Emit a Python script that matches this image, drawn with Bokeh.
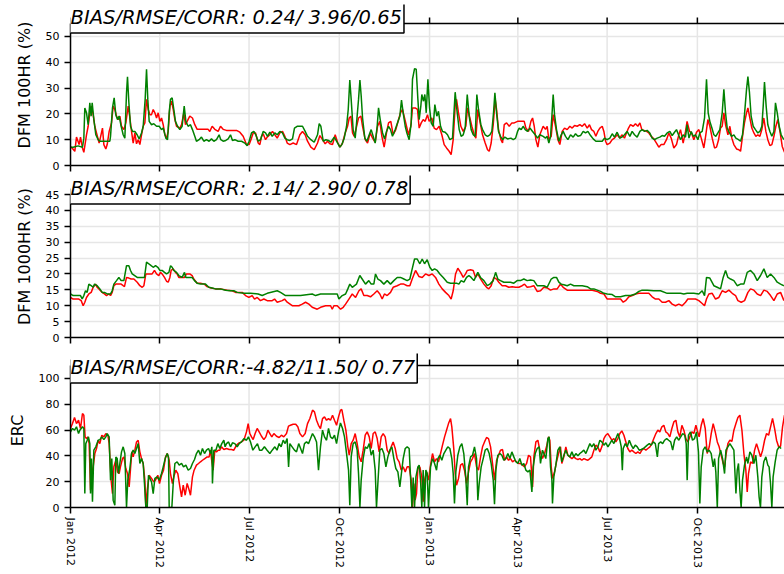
import numpy as np
from bokeh.plotting import figure
from bokeh.layouts import column
from bokeh.models import (Range1d, FixedTicker, Label, DatetimeTickFormatter,
                          ColumnDataSource, CustomLabelingPolicy, Span)
from bokeh.embed import file_html
from bokeh.resources import INLINE

# ---------------- data (day offset from 2012-01-01, value) ----------------
start_date = "2012-01-01"
end_day = 727.8
quarter_ticks = ["2012-01-01", "2012-04-01", "2012-07-01", "2012-10-01",
                 "2013-01-01", "2013-04-01", "2013-07-01", "2013-10-01"]
panel_titles = ["BIAS/RMSE/CORR: 0.24/ 3.96/0.65",
                "BIAS/RMSE/CORR: 2.14/ 2.90/ 0.78",
                "BIAS/RMSE/CORR:-4.82/11.50/ 0.77"]
y_labels = ["DFM 100HR (%)", "DFM 1000HR (%)", "ERC"]
y_ticks_100 = [0, 10, 20, 30, 40, 50]
y_ticks_1000 = [0, 5, 10, 15, 20, 25, 30, 35, 40, 45]
y_ticks_erc = [0, 20, 40, 60, 80, 100]
y_max = [55, 45, 110]

dfm100_red = [
(0,6.8),(1,7.1),(4.4,5.5),(6.1,11.0),(8.8,8.1),(10.2,11.0),(12.2,6.8),(13.6,5.1),(16.3,11.9),(18,15.2),(19.7,20.4),(21.4,23.0),(23.1,19.7),(24.8,15.2),(26.5,12.6),(29.2,8.7),(30.6,11.0),(32.6,14.5),(34,8.1),(36,6.4),(37.4,8.1),(39.4,13.2),(41.8,16.5),(43.5,23.0),(45.2,21.7),(46.9,19.1),(48.6,17.8),(50.3,19.1),(52,15.2),(54.4,13.9),(56.4,16.5),(58.8,23.0),(60.5,18.6),(62.2,13.2),(63.9,8.7),(65.6,12.6),(67.3,8.4),(69,10.0),(70.7,8.1),(72.4,11.9),(74.1,15.2),(75.8,16.5),(77.5,25.6),(79.2,21.7),(80.9,19.7),(82.6,19.7),(84.3,21.7),(86,20.4),(87.7,18.4),(89.4,20.4),(91.1,17.1),(92.8,18.4),(94.5,15.8),(96.2,11.9),(97.9,10.6),(99.6,13.2),(101.3,23.0),(103,24.9),(104.7,21.7),(106.4,17.8),(108.1,15.2),(111.5,14.5),(113.2,15.8),(115.5,20.4),(117.2,15.8),(118.9,17.1),(121.6,19.1),(124.3,18.4),(126.7,15.8),(129.1,14.0),(131.8,14.0),(140.3,14.0),(142,13.2),(144.4,15.2),(147.1,14.0),(150.5,13.2),(152.9,15.2),(155.6,14.0),(159,13.6),(169.2,13.6),(172.6,12.9),(176,11.3),(179.4,8.1),(182.1,8.1),(184.5,10.6),(186.2,12.6),(188.6,12.6),(191.3,8.7),(193,8.1),(194.7,11.3),(196.4,12.3),(198.8,10.0),(200.5,11.0),(203.2,11.9),(205.9,13.2),(208.3,11.9),(210.7,10.6),(213.4,12.6),(216.1,13.2),(218.5,11.3),(220.9,8.7),(223.6,8.1),(227,8.7),(230.4,8.1),(233.8,11.9),(236.5,13.2),(239.2,11.9),
(241.6,9.4),(245,7.1),(248.4,6.1),(251.8,8.7),(254.2,11.6),(256.9,10.0),(259.6,8.4),(262,9.4),(264.4,8.4),(267.1,8.1),(269.8,11.9),(272.2,9.0),(274.6,7.1),(277.3,8.7),(280,12.6),(282.4,15.2),(284.1,18.4),(285.8,19.1),(287.5,12.6),(289.2,11.3),(290.9,13.9),(293.6,18.4),(296,19.1),(297.7,15.2),(300.4,10.0),(302.8,8.7),(305.5,12.6),(307.9,10.6),(310.6,9.0),(313,15.2),(315.3,17.1),(317.4,11.3),(319.7,7.1),(322.1,12.6),(324.2,16.5),(326.5,17.1),(328.9,11.9),(331.6,13.9),(334.4,17.8),(336.4,20.4),(338.4,21.7),(340.5,18.4),(342.5,15.2),(344.5,11.9),(346.9,15.2),(348.6,22.3),(351.3,22.3),(353.7,21.7),(355.4,14.5),(357.5,16.5),(359.5,17.8),(361.5,17.1),(363.9,19.7),(365.6,17.1),(368.3,18.4),(370.7,14.5),(373.1,13.9),(375.8,15.2),(378.5,11.9),(380.9,8.1),(383.3,6.8),(386,5.5),(388,4.2),(390.1,10.0),(392.1,23.0),(393.5,25.6),(395.5,20.4),(397.9,15.2),(400.3,13.2),(403,15.2),(404.7,22.3),(407.1,18.4),(409.1,15.2),(411.5,11.9),(413.2,10.6),(415.2,21.7),(417.3,17.1),(420,11.9),(422.7,8.7),(425.1,6.1),(426.8,5.5),(428.8,8.7),(430.9,15.8),(432.9,25.6),(434.3,21.7),(436.3,13.9),(438.7,10.0),(440.4,8.7),(442.1,15.8),(444.5,16.5),(447.2,15.2),(449.9,16.5),(452.3,16.5),(455.7,17.1),(459.1,17.1),(462.5,17.1),(464.2,14.5),(466.9,13.2),(469.3,17.1),(471,18.4),(472.7,15.2),(474.4,10.0),(476.4,7.1),(478.4,11.9),
(481.8,15.2),(484.2,14.0),(485.9,15.2),(487.6,10.0),(490,11.3),(492,19.7),(494.4,15.2),(496.8,10.0),(498.8,8.1),(501.2,13.2),(503.6,14.5),(506.3,13.9),(509,15.2),(511.4,14.5),(513.8,15.5),(516.5,15.2),(519.2,15.8),(521.6,15.2),(524,16.2),(526.7,14.5),(529,15.8),(531.1,13.9),(533.5,13.2),(535.5,11.3),(537.5,13.2),(539.6,14.5),(542,15.2),(543.7,13.2),(545.4,9.4),(547,8.1),(549.8,8.7),(552.2,10.0),(554.5,10.6),(557.2,11.9),(559.9,10.6),(562,11.9),(564.7,10.6),(566.7,12.6),(568.8,14.5),(570.8,15.8),(573.6,15.2),(575.9,16.2),(578.3,15.2),(580.4,16.5),(582.4,13.9),(584.5,13.6),(587.2,13.2),(589.5,12.6),(591.9,11.3),(594.6,10.3),(597.3,8.7),(599.7,7.1),(602.1,8.1),(604.8,8.1),(607.5,10.0),(609.9,12.6),(612.3,10.6),(615,6.8),(617.7,8.1),(620.1,11.9),(621.8,13.9),(624.5,8.7),(626.9,13.2),(628.5,17.1),(631,13.2),(633,12.6),(635.4,10.0),(638.1,12.9),(640.5,13.9),(642.9,10.6),(645.6,6.8),(647.6,11.9),(649.7,17.8),(651.7,15.2),(654.1,10.6),(656.5,6.8),(658.5,7.1),(660.6,10.0),(662.6,14.5),(664.3,15.2),(666,20.4),(667.7,15.8),(670.1,11.9),(672.1,15.2),(674.1,10.6),(676.2,8.1),(678.9,6.4),(681.3,6.1),(683,5.5),(685,11.3),(687,16.5),(689.1,20.4),(690.5,22.3),(692.5,18.4),(694.5,14.5),(696.6,12.6),(698.6,11.3),(700.6,11.9),(702.7,11.3),(704.7,13.9),(706.7,18.4),(708.8,13.2),(710.8,10.0),(712.9,7.7),(714.9,8.1),(717,11.3),(719,15.2),(721,17.8),(723.4,12.6),(725.5,7.4),(727.8,5.1)]

dfm100_green = [
(0,7.1),(2.7,7.1),(7.8,7.6),(12.2,7.1),(13.6,10.6),(14.6,22.3),(16.3,20.4),(18,15.8),(19.7,24.3),(21,19.1),(22.1,24.3),(23.8,17.8),(25.8,11.9),(28.2,10.0),(29.9,9.4),(40.1,9.4),(40.8,11.3),(42.8,22.3),(44.5,26.2),(46.2,19.7),(47.9,17.8),(49.6,19.1),(51.3,15.8),(53.7,11.9),(55.4,10.6),(57.1,28.2),(58.1,34.4),(59.5,24.3),(61.2,15.2),(63.2,13.2),(65.6,13.2),(67.9,11.9),(70,10.3),(72.4,12.6),(74.1,15.2),(76.1,25.6),(77.5,37.3),(78.8,25.6),(80.2,17.1),(82.6,15.8),(84.9,16.2),(87.7,15.2),(90.4,15.2),(92.8,13.9),(94.5,14.5),(97.2,10.6),(98.9,10.0),(100.6,20.4),(101.9,25.6),(103.6,26.2),(105.3,21.7),(107,17.1),(109.1,15.2),(111.5,13.9),(113.8,15.2),(115.9,23.0),(117.6,17.1),(119.9,15.2),(122.3,15.8),(124.3,13.9),(126.7,11.3),(128.4,9.4),(131.1,10.0),(133.5,11.0),(135.9,9.4),(138.6,10.0),(141.3,9.4),(143.7,10.3),(146.1,9.4),(148.8,10.0),(151.5,11.9),(153.2,10.0),(155.6,9.4),(158.3,9.7),(160.7,10.3),(163.1,11.9),(165.1,9.7),(167.5,10.0),(170.9,9.4),(174.3,9.4),(177.7,8.7),(180.1,7.7),(182.1,9.4),(184.5,12.6),(186.9,13.2),(188.9,11.9),(191.3,9.4),(193.7,10.0),(196.4,13.2),(198.8,12.6),(200.8,11.3),(203.2,12.9),(205.6,11.3),(208.3,12.6),(210.7,11.9),(213.4,13.2),(216.1,12.6),(218.5,10.6),(220.9,10.0),(223.6,9.7),(226.3,10.3),(228.3,14.5),(231,15.2),(233.8,15.2),(236.5,15.2),
(239.2,13.2),(241.6,11.3),(245,10.0),(248.4,9.0),(251.8,11.9),(253.5,16.2),(255.2,15.2),(257.6,9.4),(260.3,10.0),(263,9.7),(265.4,9.0),(268.8,11.0),(271.2,9.4),(274.6,7.1),(276.6,8.1),(279,10.6),(281.4,15.2),(283.1,21.7),(284.7,33.1),(286.1,25.6),(288.1,13.9),(290.2,10.6),(291.9,17.8),(293.6,25.6),(295,33.1),(296.3,27.0),(297.7,18.4),(300,10.6),(302.1,9.4),(304.5,11.9),(306.5,13.9),(308.5,11.3),(310.6,8.7),(312.6,15.2),(314,22.3),(315.7,17.8),(318.1,12.6),(320.1,10.3),(322.1,13.2),(324.2,15.2),(326.2,13.9),(328.2,11.3),(331,13.9),(333.3,16.5),(335.7,19.1),(337.4,25.3),(339.1,20.4),(341.2,15.2),(342.9,12.6),(345.2,10.0),(347.3,16.5),(348.6,33.4),(350.7,37.5),(352.4,37.3),(354.1,25.6),(355.4,17.8),(357.1,23.0),(358.1,27.5),(359.8,24.9),(361.2,27.5),(362.6,20.4),(364.3,33.4),(366,22.3),(367.7,16.5),(369.7,15.2),(371.4,23.6),(373.4,19.1),(375.1,21.0),(377.2,15.2),(379.2,13.2),(381.9,12.9),(384.3,11.9),(386.7,10.0),(389.4,10.6),(392.1,28.4),(394.2,20.4),(396.2,13.9),(398.2,11.3),(400.3,11.9),(402.3,14.5),(404.4,27.5),(406.4,19.1),(408.4,13.9),(410.5,11.9),(412.5,11.3),(414.2,27.5),(415.9,21.7),(418.3,15.8),(420,13.9),(422.7,11.9),(425.1,11.3),(427.5,11.9),(429.5,13.2),(431.2,20.4),(432.6,28.2),(434.3,20.4),(436.3,13.2),(438.3,11.3),(440.4,10.0),(442.7,11.0),(445.5,10.3),(448.9,10.6),(451.3,10.0),(453.7,10.6),(455.7,13.2),(457.4,14.5),(459.4,13.9),(461.4,15.2),(463.5,13.9),(465.9,13.2),(468.3,14.5),(471,13.2),(473.7,11.9),(476.1,10.6),(478.4,11.9),
(481.8,11.3),(484.2,10.6),(485.9,11.3),(487.6,8.7),(489.3,11.3),(490.7,19.1),(492,27.5),(493.4,19.7),(495.4,13.9),(497.8,9.4),(500.2,11.9),(502.2,13.2),(504.6,11.3),(507,10.0),(509.7,11.9),(512.4,11.0),(514.8,12.3),(517.2,11.3),(519.9,11.6),(522.6,13.2),(525,12.6),(527.4,13.2),(530.1,11.6),(532.8,10.3),(535.5,9.4),(538.5,9.4),(542,9.4),(544.3,10.6),(547,10.0),(549.8,10.6),(552.2,12.3),(554.5,11.0),(557.2,12.9),(559.9,10.6),(562,11.0),(564.7,11.9),(567.4,13.2),(570.2,11.3),(572.5,13.2),(574.9,11.9),(577.6,11.0),(580.4,13.2),(582.7,13.9),(585.1,13.2),(587.8,13.6),(590.5,12.6),(592.9,10.6),(595.3,10.0),(598,10.6),(600.7,11.0),(603.1,11.6),(605.5,11.3),(608.2,12.6),(610.9,13.2),(613.3,11.6),(615.7,12.9),(617.7,13.9),(620.1,11.6),(621.8,10.0),(624.5,11.9),(626.9,11.0),(628.5,15.8),(630.4,10.6),(632.7,13.2),(634.8,11.3),(637.1,11.9),(639.5,10.0),(641.5,12.6),(643.9,13.2),(646.3,18.4),(648.3,33.4),(650,20.4),(651.7,17.1),(653.8,14.5),(655.8,11.9),(657.8,11.3),(659.9,12.6),(661.9,13.9),(664.3,20.4),(666,29.5),(667.7,20.4),(669.4,14.5),(671.8,12.6),(673.8,11.3),(676.2,11.9),(678.2,10.6),(680.9,10.0),(683,9.4),(685,11.9),(687,19.7),(689.1,29.5),(690.5,34.4),(692.1,28.2),(693.8,19.1),(695.9,15.2),(698.2,13.9),(700.6,12.6),(702.7,13.2),(704.7,15.2),(706.1,23.0),(707.4,32.3),(709.1,23.0),(710.8,15.8),(712.9,13.2),(714.9,11.3),(717,13.2),(718.6,24.3),(720.4,20.4),(722.4,15.2),(724.4,11.9),(727.1,10.0)]

dfm1000_red = [
(0,12.6),(2.7,12.1),(8.5,12.1),(10.9,11.6),(12.9,10.0),(14.6,11.1),(16.3,12.6),(18.7,13.7),(21.1,14.2),(23.1,15.8),(25.5,16.8),(27.2,15.8),(28.9,15.3),(30.6,14.7),(32.3,14.2),(34.6,13.7),(36.7,13.2),(39.1,13.7),(40.8,13.2),(42.5,14.2),(44.2,16.3),(46.2,16.8),(49.3,16.8),(51.6,16.8),(53.7,16.3),(55,16.0),(57.1,18.9),(59.5,18.7),(61.8,18.4),(64.6,18.4),(68,17.4),(70.7,16.3),(73.1,15.8),(74.8,16.3),(76.8,20.0),(79.8,20.0),(83.2,20.0),(85.6,21.1),(87.7,20.0),(90,19.5),(91.7,20.5),(93.4,20.0),(95.8,18.9),(97.9,17.7),(99.6,17.4),(101.3,18.9),(102.6,21.1),(104.7,21.6),(107,20.5),(108.7,20.0),(110.4,18.9),(113.8,18.9),(116.2,18.9),(118.2,20.0),(121.6,20.0),(124,19.5),(125.7,18.4),(129.1,17.1),(132.5,17.1),(136.5,16.8),(139.2,16.0),(143.3,15.6),(147.8,15.3),(152.9,15.3),(159.7,14.9),(164.8,14.7),(168.2,14.2),(175,14.2),(178.4,13.2),(181.8,12.6),(185.2,13.2),(187.6,12.1),(190.3,12.6),(193.7,11.6),(197.1,12.1),(200.5,11.6),(205.6,11.6),(208,12.1),(210.7,11.1),(215.8,11.6),(218.2,12.1),(220.9,11.1),(226,10.0),(232.8,10.0),(236.2,10.5),(239.6,11.1),(243,10.5),(246.4,9.5),(251.5,8.9),(254.9,9.5),(260,10.0),(265.1,10.0),(266.8,8.9),(268.5,10.0),(271.9,10.0),(275.3,8.9),(278,9.5),(280.4,10.5),(283.8,12.1),(287.2,13.7),(290.6,12.6),(294,14.7),(296.3,15.3),(299,13.2),(302.4,13.2),(305.8,12.8),(309.2,13.7),(312.6,14.7),(315.3,13.7),(317.7,12.1),(320,13.7),(322.8,13.2),(326.2,14.2),(328.9,15.8),(333,16.3),
(336.4,16.8),(339.8,16.8),(343.2,16.3),(345.9,16.3),(348.3,18.4),(351.7,21.1),(355.1,19.2),(358.5,18.9),(361.9,20.0),(365.3,19.5),(368.7,20.0),(372.1,18.9),(375.5,16.8),(378.9,15.3),(382.3,14.2),(385.7,13.2),(388,12.1),(390.1,14.7),(392.5,20.0),(394.8,21.8),(397.6,20.5),(400.3,18.9),(402.7,20.0),(404.4,21.1),(407.8,21.3),(410.5,21.1),(412.9,18.9),(415.2,20.0),(418.1,18.4),(421.4,16.8),(424.1,15.8),(426.4,15.3),(428.8,16.3),(431.5,18.9),(434.3,18.4),(436.6,17.4),(440,16.3),(443.4,16.3),(446.8,15.8),(450.2,16.0),(453.6,15.8),(457,15.8),(460.4,16.3),(462.8,16.8),(465.5,15.8),(468.9,16.0),(472.3,16.3),(475.7,14.5),(479.1,14.7),(482.5,15.8),(485.9,15.6),(489.3,14.9),(492.8,15.3),(496.1,15.3),(499.4,16.8),(502.2,15.8),(506.3,14.9),(511.3,14.9),(516.5,14.9),(521.5,14.9),(526.7,14.9),(531.8,14.9),(536.9,14.5),(540.3,13.9),(543.7,13.7),(547.1,12.1),(553.9,12.1),(560.7,12.1),(563.4,11.1),(565.8,11.6),(569.2,12.8),(572.6,13.2),(576,13.7),(579.4,13.9),(584.5,13.9),(589.5,13.9),(592.9,12.8),(596.3,12.1),(599.7,12.1),(603.1,11.1),(606.5,11.1),(609.9,11.6),(613.3,10.5),(616.7,10.0),(620.1,10.5),(623.5,10.0),(626.9,11.1),(629.3,12.1),(632,12.1),(637.1,12.1),(640.5,11.6),(643.9,10.7),(646.3,10.0),(648.3,12.1),(650.7,13.7),(654.1,13.9),(657.5,12.1),(660.9,12.6),(664.3,14.7),(667.7,14.2),(671.1,14.9),(674.5,13.9),(677.9,13.2),(680.3,11.6),(683.7,11.1),(687.1,11.6),(690.5,14.2),(693.2,15.3),(696.6,14.9),(700,13.7),(703.4,13.2),(706.8,14.9),(710.2,14.5),(713.6,13.2),(717,11.6),(720.4,13.7),(723.8,14.2),(727.2,11.6)]

dfm1000_green = [
(0,13.7),(2.7,13.2),(6.8,13.2),(10.2,13.2),(11.9,12.1),(13.6,13.2),(15.3,14.7),(17,14.2),(18.7,16.8),(21.1,16.3),(23.1,15.8),(24.5,16.8),(27.2,16.3),(29.9,15.3),(32.3,14.2),(34.6,14.2),(37.4,13.7),(40.8,13.7),(42.5,14.7),(44.2,16.8),(46.9,17.9),(49.3,18.9),(51.6,17.9),(54.4,17.9),(57.1,22.6),(59.5,22.6),(61.2,21.1),(62.9,20.0),(68,18.9),(73.1,18.9),(75.4,18.9),(77.5,23.7),(79.8,23.2),(82.2,22.6),(84.3,22.1),(86.7,22.6),(89,22.1),(91.1,21.1),(93.4,21.1),(95.8,20.5),(97.9,20.0),(100.3,20.5),(102,22.6),(103.6,22.1),(105.3,21.1),(108.1,20.5),(110.4,19.5),(113.8,18.9),(116.2,20.5),(117.6,18.9),(120.7,18.9),(124,18.9),(126.4,17.9),(129.1,17.1),(132.5,16.8),(137.6,16.8),(141,15.8),(144.4,15.6),(147.8,15.3),(152.9,15.3),(158,14.9),(163.1,14.7),(166.5,14.7),(169.9,14.2),(176.7,13.9),(183.5,13.9),(191.3,13.7),(195.4,13.2),(200.5,13.9),(210.7,14.7),(214.1,14.2),(219.2,13.2),(227.7,13.2),(234.5,13.2),(246.4,13.7),(249.8,13.2),(254.9,13.7),(265.1,13.7),(271.9,13.7),(273.6,12.1),(277,13.2),(280.4,13.7),(282.7,15.3),(284.7,16.8),(287.2,15.8),(291.5,16.8),(294.9,19.5),(297.3,18.4),(300.7,16.8),(304.1,17.9),(306.5,16.8),(309.2,16.8),(310.9,20.0),(313.3,18.4),(316,17.9),(319.4,16.8),(322.8,17.9),(326.2,16.8),(329.6,17.9),(333,18.9),
(336.4,18.9),(339.8,18.4),(343.2,17.9),(345.9,18.4),(348.3,21.6),(350.7,24.7),(353.4,24.7),(356.1,23.2),(358.5,24.7),(360.9,23.2),(363.6,24.5),(366.3,22.1),(368.7,21.1),(371.1,21.6),(373.8,21.1),(376.5,20.0),(379.9,18.9),(384,17.4),(387.4,17.1),(390.8,17.1),(393.5,17.1),(395.9,16.8),(398.2,17.9),(401,17.4),(403.7,18.9),(406.1,19.5),(408.4,18.9),(411.2,17.9),(415.2,20.5),(417.9,18.9),(421.4,17.9),(424.8,16.3),(427.5,16.8),(430.9,17.9),(433.3,20.5),(435.6,18.4),(438.3,17.9),(441.7,17.4),(445.1,17.4),(448.5,17.4),(451.9,17.1),(455.3,17.9),(458.7,17.9),(462.1,18.4),(465.5,17.9),(468.9,18.1),(472.3,17.9),(475.7,16.3),(479.1,16.3),(482.5,16.3),(485.9,15.8),(490,18.4),(492.7,18.9),(495.4,18.9),(497.8,17.4),(500.2,16.8),(502.9,16.6),(506.3,16.3),(509.7,16.8),(513.1,16.3),(516.5,16.3),(521.6,16.3),(526.7,16.0),(530.1,15.3),(533.5,15.3),(536.9,14.9),(540.3,14.5),(543.7,13.9),(547.1,13.7),(552.2,13.5),(555.6,12.8),(560.7,12.8),(565.8,13.2),(570.9,13.2),(575.9,13.7),(579.4,14.5),(582.7,14.9),(587.8,14.9),(594.6,14.7),(601.4,14.7),(608.2,13.9),(615,13.9),(621.8,13.9),(625.2,13.7),(628.6,13.9),(635.4,13.9),(640.5,13.7),(643.9,14.7),(646.3,13.2),(648.3,18.9),(651.7,18.7),(655.8,16.3),(659.2,15.8),(662.6,15.3),(665.3,18.9),(667.7,21.1),(670.1,18.9),(672.8,18.4),(676.2,17.9),(679.6,16.3),(683,16.8),(686.4,16.8),(689.8,20.5),(693.2,21.1),(696.6,20.0),(700,17.9),(703.4,19.5),(706.8,21.6),(710.2,18.9),(713.6,20.0),(717,18.9),(720.4,17.4),(723.8,16.8),(727.2,16.3)]

erc_red = [
(0,61.2),(2,65.0),(4.1,69.7),(6.1,65.0),(8.2,67.6),(10.2,61.2),(12.2,72.8),(13.6,71.5),(14.9,54.7),(16.3,53.4),(17.7,54.7),(19,49.5),(20.4,13.4),(21.7,26.3),(23.1,31.5),(24.8,41.8),(26.5,45.7),(28.2,52.1),(29.9,49.5),(31.9,56.0),(34,54.7),(36,57.3),(38.1,56.0),(39.4,49.5),(41.4,21.2),(42.8,10.8),(44.2,31.5),(46.2,36.6),(47.9,27.6),(49.6,26.3),(50.9,31.5),(53,37.9),(54.4,39.2),(56.4,30.2),(58.1,26.3),(59.8,16.0),(61.2,30.2),(62.5,43.1),(63.9,39.2),(65.6,44.4),(67.3,50.8),(69,52.1),(70.7,43.1),(72.4,37.9),(74.1,34.1),(75.8,21.2),(76.8,0.5),(78.2,13.4),(80.2,25.0),(82.6,22.5),(84.9,19.9),(86.6,21.2),(89,25.0),(90.7,18.6),(92.8,25.0),(94.8,28.9),(96.9,39.2),(98.6,41.8),(100.6,36.6),(101.9,26.3),(103.9,18.6),(105.3,23.7),(107.3,28.9),(109.4,26.3),(111.5,16.0),(113.2,8.3),(114.9,17.3),(116.9,9.5),(118.9,18.6),(121,13.4),(122.3,9.5),(124.3,23.7),(126,28.9),(128.4,32.8),(130.5,34.1),(132.5,35.4),(134.5,36.6),(136.9,37.9),(139.3,39.2),(141.3,39.2),(142.7,44.4),(144.1,35.4),(145.4,28.9),(147.1,44.4),(148.8,43.1),(150.5,44.4),(152.2,44.4),(153.9,47.0),(156.3,44.9),(159,45.7),(161.8,44.9),(164.1,44.9),(166.5,44.4),(169.2,48.3),(171.9,50.1),(174.3,50.8),(176.7,52.1),(179.4,58.6),(181.1,65.0),(182.8,57.3),(184.5,54.7),(186.2,52.6),(188.2,57.3),(190.3,61.2),(192.3,58.6),(194.7,55.2),(197.1,52.6),(199.1,54.7),(201.2,59.9),(203.2,57.3),(205.2,54.7),(207.3,57.3),(210,55.2),(212.7,54.2),(215,56.0),(217.4,54.7),(220.2,57.3),(222.2,63.0),(224.2,63.7),(226.9,64.5),(229.6,64.5),(231.7,62.5),(233.8,57.3),
(236.5,54.7),(239.2,57.3),(241.6,65.0),(244,68.9),(246.7,75.4),(248.7,74.1),(250.8,67.6),(252.8,63.7),(254.8,61.2),(256.9,68.9),(258.9,70.2),(261,67.6),(263,68.9),(265,67.6),(267.1,71.5),(269.1,67.6),(271.2,63.7),(273.2,70.2),(275.2,75.4),(276.6,75.9),(278.6,67.6),(280.7,59.9),(282.7,47.0),(284.1,40.5),(286.1,49.5),(288.1,52.1),(290.2,57.3),(292.2,49.5),(294.3,39.2),(296.3,35.4),(298.3,44.4),(300.4,56.0),(302.4,58.6),(304.5,54.7),(306.5,45.7),(308.5,57.3),(310.6,58.6),(312.6,53.4),(314.6,43.1),(316.7,54.7),(318.7,57.3),(320.8,54.7),(322.8,44.4),(324.8,41.8),(326.9,47.0),(328.9,50.8),(331,45.7),(333,37.9),(335,35.4),(337.1,28.9),(339.1,31.5),(341.2,27.6),(343.2,31.5),(345.2,31.5),(347.3,21.2),(348.6,0),(350,18.6),(351.3,5.7),(352.7,10.8),(354.1,30.2),(356.1,31.5),(358.1,23.7),(359.5,4.4),(360.9,21.2),(362.9,27.6),(364.9,21.2),(367,32.8),(369,41.8),(371.1,35.4),(373.1,37.9),(375.1,35.4),(377.2,41.8),(379.2,48.3),(381.3,54.7),(383.3,59.9),(385.3,65.0),(387.4,68.9),(388.7,62.5),(390.8,44.4),(392.1,26.3),(393.5,17.3),(395.5,22.5),(397.6,32.8),(399.6,34.1),(401.6,28.9),(403.7,18.6),(405.7,27.6),(407.8,35.4),(409.8,37.9),(411.8,41.8),(413.9,31.5),(415.9,28.9),(418,39.2),(420,47.0),(422,50.8),(424.1,54.2),(426.1,53.4),(428.2,47.0),(430.2,34.1),(432.2,21.2),(434.3,36.6),(436.3,40.5),(438.3,44.4),(440.4,44.9),(442.4,36.6),(444.5,39.2),(446.5,36.6),(448.5,37.9),(450.6,35.4),(452.6,36.6),(454.7,35.4),(456.7,34.1),(458.7,34.1),(460.8,32.8),(462.8,31.5),(464.9,34.1),(466.9,40.5),(468.9,39.2),(471,16.0),(472.3,39.2),(474.4,50.8),(476.4,52.1),(478.4,44.4),
(481.1,37.9),(483.2,41.8),(485.2,47.0),(487.3,54.7),(488.6,52.1),(490,31.5),(491.3,22.5),(493.4,27.6),(495.4,35.4),(497.5,41.8),(499.5,47.0),(500.8,34.1),(502.9,39.2),(504.9,47.0),(507,40.5),(509,39.2),(511.1,37.9),(513.1,39.2),(515.1,37.9),(517.2,37.2),(519.2,37.9),(521.2,36.6),(523.3,37.9),(525.3,37.2),(527.4,36.6),(529.4,37.9),(531.4,39.2),(533.5,44.4),(535.5,48.3),(537.5,47.0),(539.6,43.1),(541.6,47.0),(543.7,53.4),(545.7,56.0),(547.7,57.3),(549.8,54.7),(551.8,52.1),(553.9,53.4),(555.9,50.8),(557.9,53.4),(560,57.3),(562,59.4),(564.1,56.0),(566.1,50.8),(568.1,45.7),(570.2,43.1),(572.2,44.4),(574.2,43.1),(576.3,41.8),(578.3,43.1),(580.4,41.8),(582.4,44.4),(584.4,45.7),(586.5,44.4),(588.5,45.7),(590.6,47.0),(592.6,49.5),(594.6,53.4),(596.7,57.3),(598.7,59.9),(600.7,58.6),(602.8,62.5),(604.8,63.7),(606.8,58.6),(608.9,57.3),(610.9,54.7),(613,61.2),(615,66.3),(617.1,67.6),(619.1,58.6),(621.1,54.7),(623.2,63.7),(625.2,59.9),(627.3,53.4),(629.3,50.8),(631.3,54.7),(633.4,58.6),(635.4,57.3),(637.5,63.7),(638.8,59.9),(640.8,54.7),(642.9,63.7),(644.9,68.9),(647,61.2),(649,41.8),(651.1,47.0),(653.1,57.3),(655.1,65.0),(657.2,58.6),(659.3,50.8),(661.2,47.0),(663.3,40.5),(665.3,34.1),(666.7,31.5),(668.1,40.5),(670.1,49.5),(672.1,52.1),(674.2,51.3),(676.2,59.9),(678.3,65.0),(680.3,69.7),(682.3,71.5),(684.4,59.9),(686.4,41.8),(688.4,28.9),(689.8,12.1),(691.1,26.3),(693.2,35.4),(695.3,34.1),(697.3,44.4),(699.3,49.5),(701.4,44.4),(703.4,39.2),(705.5,44.4),(707.5,52.1),(709.5,57.3),(711.6,56.0),(713.6,62.5),(715.6,69.0),(717.7,61.2),(719.7,52.1),(721.8,47.0),(723.8,47.5),(725.8,62.5),(727.8,71.5)]

erc_green = [
(0,58.6),(2,61.2),(4.1,59.9),(6.1,62.5),(8.2,57.3),(9.5,59.9),(10.9,61.2),(12.2,62.5),(13.6,61.2),(14.6,10.8),(15.6,49.5),(17,52.1),(18.3,54.7),(19.7,49.5),(20.4,10.8),(21.4,37.9),(22.4,4.4),(23.8,44.4),(25.8,47.0),(28.2,52.1),(29.9,52.6),(31.9,54.7),(34,52.6),(36,54.7),(37.4,57.3),(39.4,54.7),(40.8,21.2),(42.1,37.9),(43.5,5.7),(45.2,1.8),(46.2,39.2),(47.6,37.9),(48.9,26.3),(50.3,34.1),(52,43.1),(53.7,47.0),(55.4,41.8),(57.1,0),(58.4,21.2),(60.5,30.2),(62.2,41.8),(63.9,44.4),(65.6,41.8),(67.3,45.7),(69,49.5),(70.7,34.1),(72.4,37.9),(74.1,34.1),(75.4,18.6),(76.8,0),(78.2,0),(79.5,25.0),(80.9,22.5),(82.6,19.9),(84.3,10.8),(86,22.5),(88.3,23.7),(90.4,21.2),(92.8,26.3),(94.5,31.5),(96.5,37.9),(98.6,41.8),(99.9,39.2),(100.6,0),(101.9,0),(103.3,0),(104.7,18.6),(106.4,34.1),(108.7,35.4),(110.8,32.8),(113.2,34.1),(115.2,31.5),(117.6,32.8),(120,28.9),(122.3,30.2),(124.3,34.1),(126.4,37.2),(128.4,41.8),(130.5,44.4),(132.5,40.5),(134.5,45.7),(136.6,41.8),(138.6,44.4),(140.7,45.7),(142.7,41.8),(144.1,47.0),(144.7,18.6),(146.1,44.4),(148.2,44.4),(150.2,49.5),(152.2,45.7),(154.2,49.5),(156.3,52.1),(157.6,47.0),(159,49.5),(161.1,50.8),(163.1,47.0),(165.1,50.1),(167.5,49.5),(169.9,47.0),(172,49.5),(174.3,50.8),(176.7,53.4),(179.4,52.1),(181.4,54.7),(183.5,50.8),(185.9,44.4),(188.2,47.0),(190.6,49.5),(192.7,44.4),(195,44.4),(197.7,47.0),(200.4,44.4),(203.2,41.8),(205.6,44.4),(208.3,47.0),(210.5,44.4),(212.7,49.5),(214.7,47.0),(216.8,52.1),(218.8,49.5),(220.8,53.4),(222.3,31.5),(223.6,49.5),(225.9,47.0),(228.3,44.4),(230.4,43.1),(232.6,49.5),
(236.5,41.8),(238.5,49.5),(240.6,50.8),(242.6,49.5),(244.7,53.4),(246.7,57.3),(248.7,54.7),(250.8,50.8),(252.8,28.9),(254.8,47.0),(256.9,59.9),(258.9,54.7),(261,52.1),(263,61.2),(265,54.7),(267.1,53.4),(269.1,56.0),(271.2,49.5),(273.2,58.6),(275.2,65.5),(277.3,61.2),(279.3,54.7),(281.4,41.8),(283.4,29.0),(284.7,1.8),(286.1,39.2),(288.1,49.5),(290.2,50.8),(292.2,44.4),(293.6,26.3),(295,0.5),(296.3,21.2),(298.3,37.9),(300.4,47.0),(302.4,45.7),(304.5,49.5),(306.5,40.5),(308.5,44.4),(310.6,28.9),(311.9,0),(313.3,18.6),(315.3,44.4),(317.4,45.7),(319.4,41.8),(321.5,31.5),(323.5,39.2),(325.5,44.4),(327.6,47.0),(329.6,37.9),(331.6,30.2),(333.7,27.6),(335.7,16.0),(337.1,25.0),(339.1,37.9),(341.2,45.7),(343.2,47.0),(345.2,45.7),(346.6,23.7),(348,0),(349.3,23.2),(350.7,0),(352.1,23.7),(354.1,31.5),(355.4,32.8),(356.8,21.2),(358.1,0),(359.5,29.0),(360.9,0),(362.2,29.0),(363.6,26.3),(364.9,0),(367,31.5),(369,37.9),(371.1,34.1),(373.1,28.9),(374.5,37.9),(376.5,40.5),(378.5,36.6),(380.6,41.8),(382.6,44.4),(384.6,47.0),(386.7,45.7),(388.7,37.9),(390.1,26.3),(391.4,3.1),(392.8,27.6),(394.8,40.5),(396.9,47.0),(398.9,49.5),(400.9,41.8),(402.9,23.7),(404.4,1.8),(405.7,31.5),(407.8,39.2),(409.8,40.5),(411.8,47.0),(413.9,37.9),(415.2,5.7),(416.6,18.6),(418.6,31.5),(420.7,37.9),(422.7,44.4),(424.8,45.7),(426.8,41.8),(428.8,34.1),(430.9,21.2),(432.2,2.6),(433.6,28.9),(435.6,40.5),(437.7,41.8),(439.7,40.5),(441.7,36.6),(443.8,37.9),(445.8,41.8),(447.9,37.9),(449.9,43.1),(451.9,39.2),(454,35.4),(456,34.1),(458,37.9),(460.1,32.8),(462.1,34.1),(464.2,28.9),(466.2,27.6),(468.3,29.0),(470.3,12.1),(471.6,31.5),(473.7,41.8),(475.7,45.7),(477.7,47.0),
(479.1,34.1),(481.1,44.4),(482.5,41.8),(484.5,37.9),(486.6,53.4),(487.9,54.7),(489.3,31.5),(490.7,21.2),(491.3,3.1),(492.7,23.7),(494.7,32.8),(496.8,44.4),(498.8,47.0),(500.8,35.4),(502.9,40.5),(504.9,44.4),(507,40.5),(509,39.2),(511.1,43.1),(513.1,39.2),(515.1,41.8),(517.2,40.0),(519.2,41.8),(521.3,43.1),(523.3,44.4),(525.3,41.8),(527.4,45.7),(529.4,49.5),(531.4,47.0),(533.5,49.5),(535.5,44.4),(537.6,47.0),(539.6,52.1),(541.6,50.8),(543.7,48.3),(545.7,50.1),(547.8,47.0),(549.8,49.5),(551.8,52.1),(553.9,49.5),(555.9,53.4),(558,57.3),(560,52.1),(561.4,47.0),(562.5,28.9),(563.4,45.7),(565.5,49.5),(567.5,47.0),(569.6,52.1),(571.6,48.3),(573.6,45.7),(575.7,48.3),(577.7,47.0),(579.7,44.4),(581.8,44.9),(583.9,45.7),(585.9,47.0),(587.9,48.3),(590,49.5),(592,48.3),(594.1,50.8),(596.1,49.5),(598.2,39.2),(599.5,49.5),(601.6,50.8),(603.6,49.5),(605.6,52.1),(607.7,53.4),(609.7,52.1),(611.8,50.8),(613.8,44.4),(615.8,52.1),(617.9,54.7),(619.9,52.1),(622,54.7),(624,57.3),(626.1,56.0),(627.6,49.5),(628.6,21.2),(629.9,56.0),(632,58.6),(634,52.1),(636.1,53.4),(638.1,58.6),(640.1,43.1),(641.5,3.1),(642.9,31.5),(644.9,44.4),(646.9,47.0),(649,43.1),(651,44.4),(653.1,41.8),(655.1,31.5),(656.5,37.9),(657.8,27.6),(659.3,0),(660.6,37.9),(662.7,44.4),(664.7,37.9),(666.7,26.3),(668.1,44.4),(670.1,47.0),(672.1,49.5),(674.2,47.0),(676.2,44.4),(678.3,10.8),(679.6,28.9),(680.9,34.1),(682.3,13.4),(683.6,0),(685,21.2),(687,32.8),(689.1,39.2),(690.5,34.1),(692.5,43.1),(694.5,40.5),(696.6,34.1),(698.6,40.5),(700.6,23.7),(701.9,8.3),(703.3,0),(704.7,23.7),(706.7,35.4),(708.8,39.2),(710.8,32.8),(712.1,31.5),(713.5,19.2),(714.9,0),(716.2,23.7),(718.3,35.4),(720.3,44.4),(722.3,47.0),(724.4,45.7)]

# ---------------- helpers ----------------
DAY_MS = 86400000.0
t0 = float(np.datetime64(start_date, "ms").astype(np.int64))
tick_ms = [float(np.datetime64(t, "ms").astype(np.int64)) for t in quarter_ticks]


def src(pairs):
    d = np.array([p[0] for p in pairs], dtype=float)
    v = np.array([p[1] for p in pairs], dtype=float)
    return ColumnDataSource(dict(x=t0 + d * DAY_MS, y=v))


def make_fmt():
    return DatetimeTickFormatter(years="%b %Y", months="%b %Y", days="%b %Y",
                                 hours="%b %Y", minutes="%b %Y", seconds="%b %Y",
                                 milliseconds="%b %Y", microseconds="%b %Y",
                                 minsec="%b %Y", hourmin="%b %Y")


x_range = Range1d(start=t0, end=t0 + end_day * DAY_MS)
FONT = "DejaVu Sans"
GRID = "#e6e6e6"


def style_ticks(ax):
    ax.major_tick_out = 6
    ax.major_tick_in = 0
    ax.minor_tick_out = 0
    ax.minor_tick_in = 0
    ax.axis_line_width = 1.5
    ax.axis_line_color = "black"
    ax.major_tick_line_width = 1.5
    ax.major_tick_line_color = "black"


def make_panel(i, red, green, yticks, top, spine_h, ext, bottom, show_x, label_dy):
    # frame covers the plotting area plus an extra strip (ext px) above the top spine
    frame_h = spine_h + ext
    height = top + frame_h + bottom
    ymax = y_max[i]
    y_end = ymax * frame_h / spine_h
    px = spine_h / ymax  # pixels per data unit
    p = figure(width=784, height=height, x_axis_type="datetime", x_range=x_range,
               y_range=Range1d(0, y_end), output_backend="svg", toolbar_location=None,
               min_border_left=70, min_border_right=0, min_border_top=top,
               min_border_bottom=bottom)
    p.title.visible = False
    p.outline_line_color = None
    p.background_fill_color = "white"

    xt = FixedTicker(ticks=tick_ms)
    yt = FixedTicker(ticks=yticks)

    # grid: horizontal via ygrid, vertical lines stop at the top spine
    p.xgrid.visible = False
    p.ygrid.ticker = yt
    p.ygrid.grid_line_color = GRID
    p.ygrid.grid_line_width = 1.5
    p.segment(x0=tick_ms, y0=[0] * len(tick_ms), x1=tick_ms, y1=[ymax] * len(tick_ms),
              line_color=GRID, line_width=1.5, level="underlay")

    ya = p.yaxis[0]
    ya.ticker = yt
    ya.bounds = (0, ymax)
    ya.axis_label = y_labels[i]
    ya.axis_label_text_font = FONT
    ya.axis_label_text_font_style = "normal"
    ya.axis_label_text_font_size = "16px"
    ya.axis_label_text_color = "black"
    ya.axis_label_standoff = 9
    ya.major_label_text_font = FONT
    ya.major_label_text_font_size = "11px"
    ya.major_label_text_color = "black"
    ya.major_label_standoff = 5
    style_ticks(ya)

    xa = p.xaxis[0]
    xa.ticker = xt
    xa.formatter = make_fmt()
    style_ticks(xa)
    if show_x:
        xa.major_label_text_font = FONT
        xa.major_label_text_font_size = "11px"
        xa.major_label_text_color = "black"
        xa.major_label_orientation = "vertical"
        xa.major_label_standoff = 4
    else:
        xa.major_label_text_font_size = "0px"
        xa.major_label_standoff = 0
        xa.major_label_policy = CustomLabelingPolicy(code="return new Set()")

    p.line("x", "y", source=src(red), line_color="#ff0000", line_width=1.5)
    p.line("x", "y", source=src(green), line_color="#008000", line_width=1.5)

    # top spine with outward ticks
    p.add_layout(Span(location=ymax, dimension="width", line_color="black", line_width=1.5))
    p.segment(x0=tick_ms, y0=[ymax] * len(tick_ms), x1=tick_ms,
              y1=[ymax + 6.0 / px] * len(tick_ms), line_color="black", line_width=1.5)

    lab = Label(x=-2, y=spine_h + label_dy, x_units="screen", y_units="screen",
                text=panel_titles[i], text_font=FONT, text_font_style="italic",
                text_font_size="19.5px", text_color="black", text_baseline="middle",
                text_align="left", background_fill_color="white",
                border_line_color="black", border_line_width=1.5, padding=(2, 4))
    p.add_layout(lab)
    return p


p1 = make_panel(0, dfm100_red, dfm100_green, y_ticks_100, 4, 142, 19, 7, False, 6)
p2 = make_panel(1, dfm1000_red, dfm1000_green, y_ticks_1000, 3, 143, 19, 8, False, 6)
p3 = make_panel(2, erc_red, erc_green, y_ticks_erc, 8, 142, 12, 67, True, -2)

layout = column(p1, p2, p3, spacing=0)
open("out.html", "w").write(file_html(layout, INLINE))
